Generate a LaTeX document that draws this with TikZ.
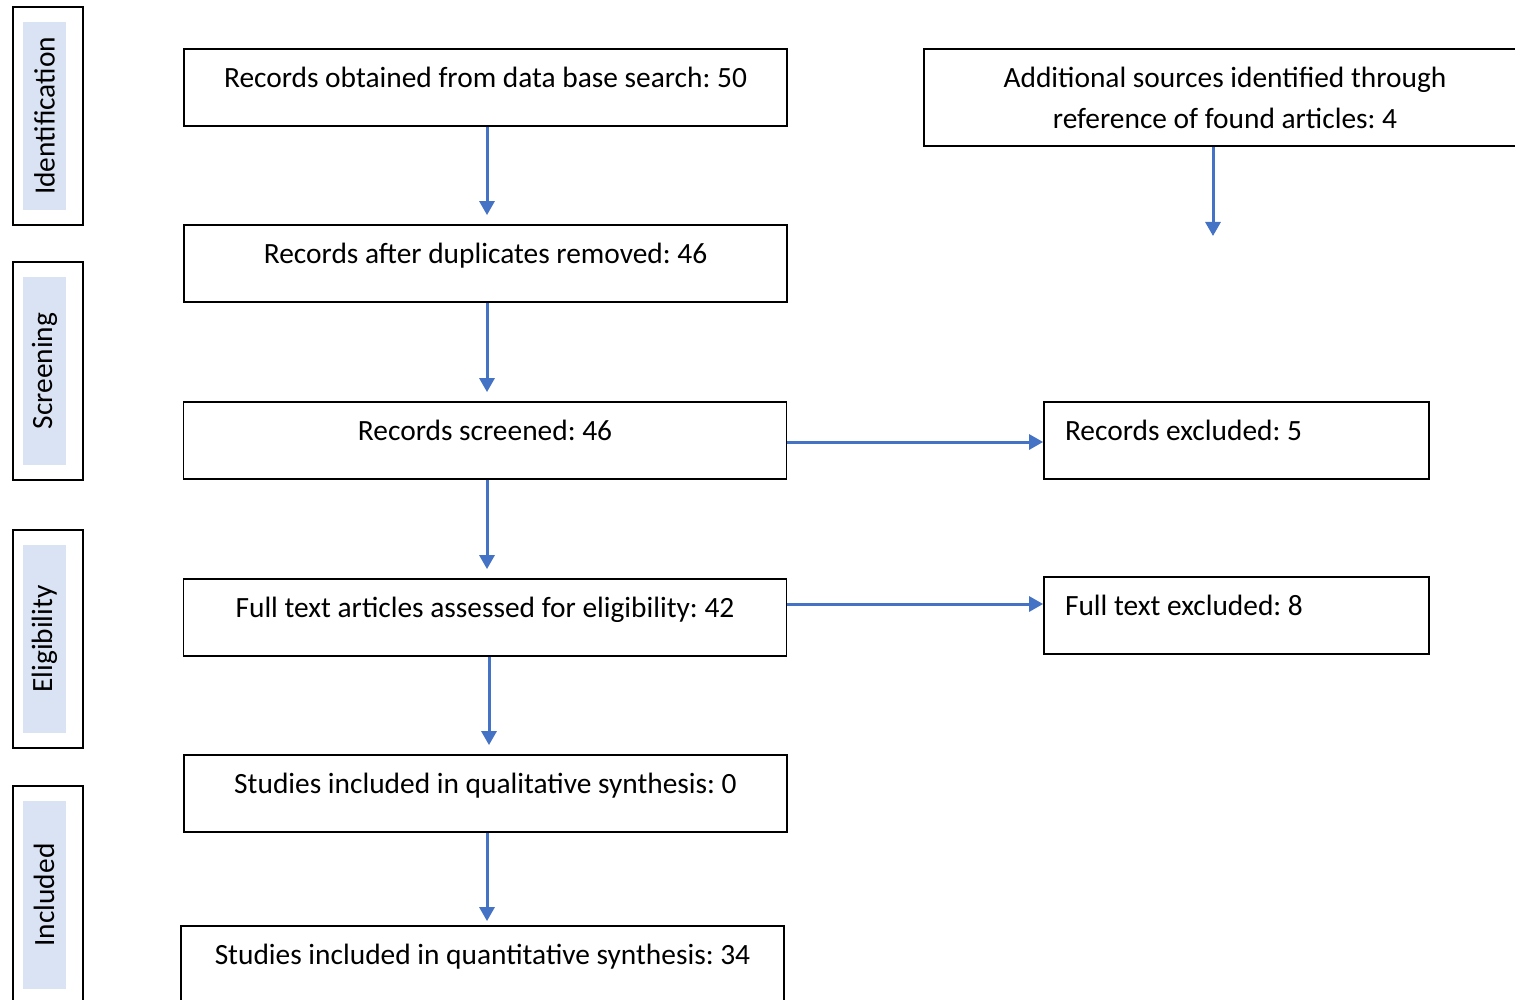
\documentclass[tikz,border=0pt]{standalone}
\usepackage{fontspec}
\setmainfont{Carlito}
\usetikzlibrary{arrows.meta,positioning}
\definecolor{flowblue}{HTML}{4472C4}
\definecolor{phasefill}{HTML}{DAE3F3}
\tikzset{
    phase/.style={
        draw,
        line width=1pt,
        minimum width=35pt,
        minimum height=109pt,
        inner sep=0pt
    },
    phaselabel/.style={
        fill=phasefill,
        rotate=90,
        minimum width=94pt,
        minimum height=21.5pt,
        inner sep=0pt
    },
    stepbox/.style={
        draw,
        line width=0.9pt,
        minimum width=301.5pt,
        minimum height=38.5pt,
        text height=10pt,
        text depth=10pt,
        align=center
    },
    sidebox/.style={
        draw,
        line width=0.9pt,
        text width=171.5pt,
        inner xsep=10.5pt,
        minimum height=38.5pt,
        text height=10pt,
        text depth=10pt,
        align=flush left
    },
    addbox/.style={
        draw,
        line width=0.9pt,
        minimum width=301pt,
        minimum height=48.5pt,
        align=center
    },
    flow/.style={
        -{Triangle[length=7pt,width=7.5pt]},
        line width=1.5pt,
        color=flowblue
    }
}
\frenchspacing

\begin{document}
\begin{tikzpicture}[x=0.5pt,y=-0.5pt,font=\fontsize{14.7}{20.5}\selectfont]

    % Cadre
    \useasboundingbox (0,0) rectangle (1515,1000);
    \clip (0,0) rectangle (1515,1000);

    % Phases
    \node[phase] (idbox) at (48,116) {};
    \node[phaselabel] (idlab) at (44.5,116) {Identification};

    \node[phase] (scbox) at (48,371) {};
    \node[phaselabel] (sclab) at (44.5,371) {Screening};

    \node[phase] (elbox) at (48,638.5) {};
    \node[phaselabel] (ellab) at (44.5,639) {Eligibility};

    \node[phase] (inbox) at (47.5,895) {};
    \node[phaselabel] (inlab) at (44,895) {Included};

    % Colonne principale
    \node[stepbox] (recdb) at (485.5,87.5)
        {Records obtained from data base search: 50};
    \node[stepbox] (recdup) at (485.5,263.5)
        {Records after duplicates removed: 46};
    \node[stepbox] (recscr) at (485,440.5)
        {Records screened: 46};
    \node[stepbox] (fulltxt) at (485,617.5)
        {Full text articles assessed for eligibility: 42};
    \node[stepbox] (qualsyn) at (485.5,793.5)
        {Studies included in qualitative synthesis: 0};
    \node[stepbox] (quansyn) at (482.5,964.5)
        {Studies included in quantitative synthesis: 34};

    % Colonne droite
    \node[addbox] (addsrc) at (1225,97.5)
        {Additional sources identified through\\reference of found articles: 4};
    \node[sidebox] (recexc) at (1236.5,440.5)
        {Records excluded: 5};
    \node[sidebox] (fullexc) at (1236.5,615.5)
        {Full text excluded: 8};

    \coordinate (addend) at (1213,236);

    % Fleches
    \draw[flow,shorten >=4.5pt] ([xshift=0.75pt]recdb.south) -- ([xshift=0.75pt]recdb.south |- recdup.north);
    \draw[flow,shorten >=4.5pt] ([xshift=0.75pt]recdup.south) -- ([xshift=0.75pt]recdup.south |- recscr.north);
    \draw[flow,shorten >=4.5pt] ([xshift=1pt]recscr.south) -- ([xshift=1pt]recscr.south |- fulltxt.north);
    \draw[flow,shorten >=4.5pt] ([xshift=2pt]fulltxt.south) -- ([xshift=2pt]fulltxt.south |- qualsyn.north);
    \draw[flow,shorten >=2pt] ([xshift=0.75pt]qualsyn.south) -- ([xshift=0.75pt]qualsyn.south |- quansyn.north);
    \draw[flow] (addsrc.south -| addend) -- (addend);

    \draw[flow] ([yshift=-0.75pt]recscr.east) -- ([yshift=-0.75pt]recscr.east -| recexc.west);
    \draw[flow] ([yshift=6.75pt]fulltxt.east) -- ([yshift=6.75pt]fulltxt.east -| fullexc.west);

\end{tikzpicture}
\end{document}
